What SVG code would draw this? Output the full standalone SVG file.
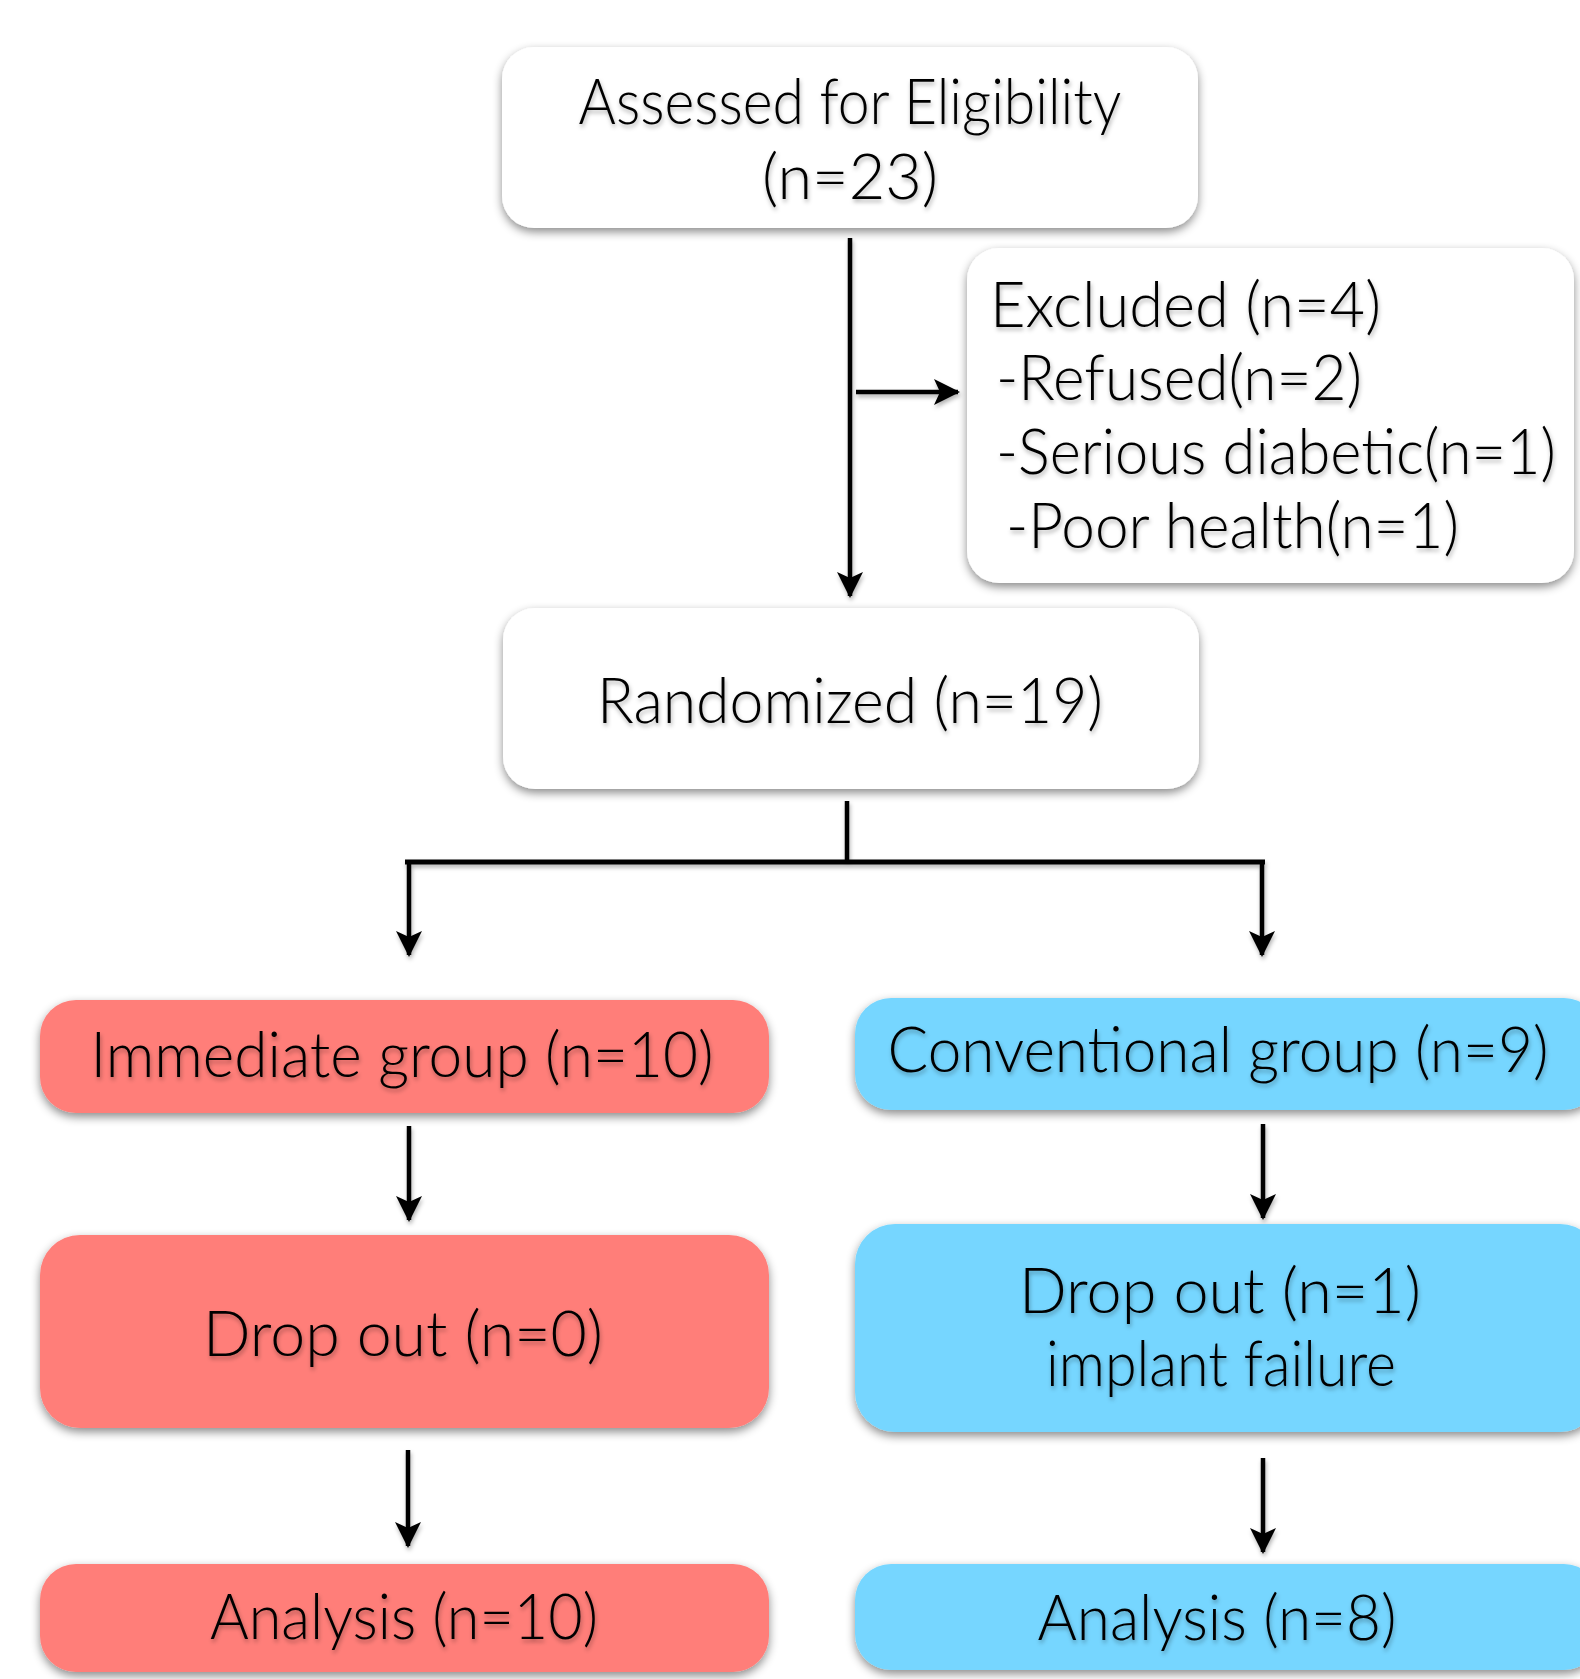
<svg xmlns="http://www.w3.org/2000/svg" width="1580" height="1679" viewBox="0 0 1580 1679">
<style>
.box{stroke:none}
.w{fill:#ffffff}
.r{fill:#FF7E79}
.b{fill:#76D6FF}
.t{font-family:Lato,"Open Sans","Liberation Sans",sans-serif;font-weight:300;font-size:64px;fill:#000}
.c{text-anchor:middle}
.ln{stroke:#000;stroke-width:4.5;fill:none}
</style>
<defs>
<filter id="sh" x="-10%" y="-20%" width="120%" height="150%">
<feDropShadow dx="0" dy="4" stdDeviation="5" flood-color="#000" flood-opacity="0.45"/>
</filter>
<filter id="tsh" x="-5%" y="-20%" width="110%" height="150%">
<feDropShadow dx="1" dy="3" stdDeviation="2" flood-color="#000" flood-opacity="0.3"/>
</filter>
<marker id="ah" viewBox="0 0 26 26" refX="24" refY="13" markerWidth="26" markerHeight="26" markerUnits="userSpaceOnUse" orient="auto">
<path d="M0,0 L26,13 L0,26 L6,13 Z" fill="#000"/>
</marker>
</defs>

<g id="connectors" filter="url(#tsh)">
<line class="ln" x1="850" y1="238" x2="850" y2="596" marker-end="url(#ah)"/>
<line class="ln" x1="856" y1="392" x2="958" y2="392" marker-end="url(#ah)"/>
<line class="ln" x1="847" y1="801" x2="847" y2="862"/>
<line class="ln" x1="405" y1="862" x2="1265" y2="862" style="stroke-width:5"/>
<line class="ln" x1="409" y1="862" x2="409" y2="955" marker-end="url(#ah)"/>
<line class="ln" x1="1262" y1="862" x2="1262" y2="955" marker-end="url(#ah)"/>
<line class="ln" x1="409" y1="1126" x2="409" y2="1220" marker-end="url(#ah)"/>
<line class="ln" x1="1263" y1="1124" x2="1263" y2="1218" marker-end="url(#ah)"/>
<line class="ln" x1="408" y1="1450" x2="408" y2="1546" marker-end="url(#ah)"/>
<line class="ln" x1="1263" y1="1458" x2="1263" y2="1552" marker-end="url(#ah)"/>
</g>

<g id="assessed">
<rect class="box w" x="502" y="47" width="696" height="181" rx="32" filter="url(#sh)"/>
<g filter="url(#tsh)">
<text class="t c" x="850" y="124" textLength="543" lengthAdjust="spacingAndGlyphs">Assessed for Eligibility</text>
<text class="t c" x="850" y="199" textLength="176" lengthAdjust="spacingAndGlyphs">(n=23)</text>
</g>
</g>

<g id="excluded">
<rect class="box w" x="967" y="248" width="607" height="335" rx="32" filter="url(#sh)"/>
<g filter="url(#tsh)">
<text class="t" x="990" y="327" textLength="391" lengthAdjust="spacingAndGlyphs">Excluded (n=4)</text>
<text class="t" x="996" y="400" textLength="366" lengthAdjust="spacingAndGlyphs">-Refused(n=2)</text>
<text class="t" x="996" y="474" textLength="560" lengthAdjust="spacingAndGlyphs">-Serious diabetic(n=1)</text>
<text class="t" x="1006" y="548" textLength="453" lengthAdjust="spacingAndGlyphs">-Poor health(n=1)</text>
</g>
</g>

<g id="randomized">
<rect class="box w" x="503" y="608" width="696" height="181" rx="32" filter="url(#sh)"/>
<text class="t c" x="850" y="723" textLength="506" lengthAdjust="spacingAndGlyphs" filter="url(#tsh)">Randomized (n=19)</text>
</g>

<g id="immediate">
<rect class="box r" x="40" y="1000" width="729" height="113" rx="36" filter="url(#sh)"/>
<text class="t c" x="402" y="1077" textLength="623" lengthAdjust="spacingAndGlyphs" filter="url(#tsh)">Immediate group (n=10)</text>
</g>

<g id="conventional">
<rect class="box b" x="855" y="998" width="745" height="112" rx="36" filter="url(#sh)"/>
<text class="t c" x="1218" y="1072" textLength="661" lengthAdjust="spacingAndGlyphs" filter="url(#tsh)">Conventional group (n=9)</text>
</g>

<g id="dropout-left">
<rect class="box r" x="40" y="1235" width="729" height="193" rx="40" filter="url(#sh)"/>
<text class="t c" x="403" y="1356" textLength="400" lengthAdjust="spacingAndGlyphs" filter="url(#tsh)">Drop out (n=0)</text>
</g>

<g id="dropout-right">
<rect class="box b" x="855" y="1224" width="745" height="208" rx="40" filter="url(#sh)"/>
<g filter="url(#tsh)">
<text class="t c" x="1220" y="1313" textLength="402" lengthAdjust="spacingAndGlyphs">Drop out (n=1)</text>
<text class="t c" x="1221" y="1386" textLength="350" lengthAdjust="spacingAndGlyphs">implant failure</text>
</g>
</g>

<g id="analysis-left">
<rect class="box r" x="40" y="1564" width="729" height="108" rx="36" filter="url(#sh)"/>
<text class="t c" x="404" y="1639" textLength="388" lengthAdjust="spacingAndGlyphs" filter="url(#tsh)">Analysis (n=10)</text>
</g>

<g id="analysis-right">
<rect class="box b" x="855" y="1564" width="745" height="106" rx="36" filter="url(#sh)"/>
<text class="t c" x="1217" y="1640" textLength="359" lengthAdjust="spacingAndGlyphs" filter="url(#tsh)">Analysis (n=8)</text>
</g>
</svg>
